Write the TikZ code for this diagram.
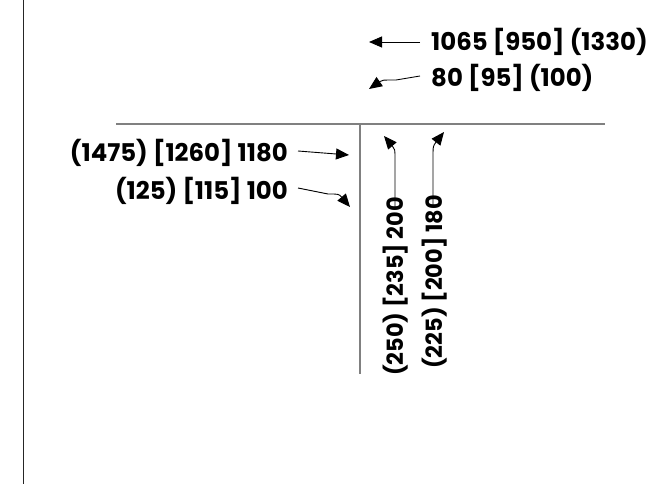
\documentclass[tikz,border=0pt]{standalone}
\usepackage{fontspec}
\setmainfont{Poppins}
\usetikzlibrary{arrows.meta}
\begin{document}
\begin{tikzpicture}[x=1bp,y=-1bp,
  lbl/.style={font=\bfseries\fontsize{24.5}{29}\selectfont, inner sep=0pt},
  vlbl/.style={font=\bfseries\fontsize{22.5}{27}\selectfont, inner sep=0pt, rotate=90, anchor=east},
  arr/.style={line width=0.9bp, -{Triangle[length=13bp,width=11bp]}},
  axis/.style={line width=1.4bp, draw=black!50},
  edge/.style={line width=1.6bp, draw=black!85}]
\useasboundingbox (0,0) rectangle (652,485);
% frame line at left
\coordinate (lt) at (23.5,0);
\coordinate (lb) at (23.5,484);
\draw[edge] (lt) -- (lb);
% T axes
\coordinate (hl) at (116,124);
\coordinate (hr) at (605,124);
\coordinate (vt) at (360,124);
\coordinate (vb) at (360,374);
\draw[axis] (hl) -- (hr);
\draw[axis] (vt) -- (vb);
% labels
\node[lbl, anchor=west] (t1) at (431,42) {1065 [950] (1330)};
\node[lbl, anchor=west] (t2) at (431,78) {80 [95] (100)};
\node[lbl, anchor=east] (t3) at (288,153) {(1475) [1260] 1180};
\node[lbl, anchor=east] (t4) at (288,191) {(125) [115] 100};
\node[vlbl] (t5) at (396,197) {(250) [235] 200};
\node[vlbl] (t6) at (435,195) {(225) [200] 180};
% arrow tips
\coordinate (e1) at (369,42);
\coordinate (e2) at (369,89);
\coordinate (e3) at (349,155);
\coordinate (e4) at (350,207);
\coordinate (e5) at (384,136);
\coordinate (e6) at (444,132);
% arrows
\draw[arr] ([xshift=-11bp,yshift=0bp]t1.west) -- (e1);
\draw[arr] ([xshift=-11bp,yshift=2bp]t2.west) -- (396,80) .. controls (382,80) .. (e2);
\draw[arr] ([xshift=10bp,yshift=2bp]t3.east) -- (e3);
\draw[arr] ([xshift=10bp,yshift=3bp]t4.east) -- (328,194) .. controls (339,194) .. (e4);
\draw[arr] ([yshift=-12bp,xshift=-1bp]t5.east) -- (395,160) .. controls (395,149) .. (e5);
\draw[arr] ([yshift=-10bp,xshift=-2bp]t6.east) -- (433,158) .. controls (433,146) .. (e6);
\end{tikzpicture}
\end{document}
